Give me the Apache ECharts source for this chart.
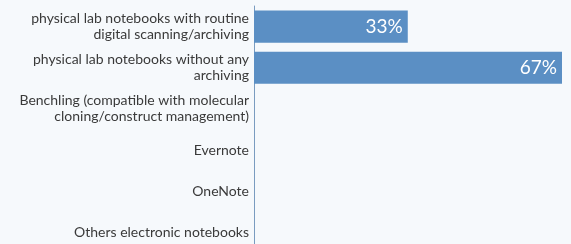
<!DOCTYPE html>
<html>
<head>
<meta charset="utf-8">
<script src="https://cdn.jsdelivr.net/npm/echarts@6/dist/echarts.min.js"></script>
<style>
  html, body { margin: 0; padding: 0; background: #f6f9fc; }
  #chart { width: 571px; height: 244px; }
</style>
</head>
<body>
<div id="chart"></div>
<script>
// answer options, top to bottom
const categories = [
  'physical lab notebooks with routine\ndigital scanning/archiving',
  'physical lab notebooks without any\narchiving',
  'Benchling (compatible with molecular\ncloning/construct management)',
  'Evernote',
  'OneNote',
  'Others electronic notebooks'
];
// share of respondents, percent
const shares = [33.3, 66.7, 0, 0, 0, 0];

const chart = echarts.init(document.getElementById('chart'));

chart.setOption({
  backgroundColor: '#f6f9fc',
  grid: { left: 254, right: 9, top: 6, bottom: -9, outerBoundsMode: 'none' },
  xAxis: {
    type: 'value',
    min: 0,
    max: 66.7,
    show: false
  },
  yAxis: {
    type: 'category',
    inverse: true,
    data: categories,
    axisLine: { lineStyle: { color: '#7a9cc0', width: 1 } },
    axisTick: { show: false },
    axisLabel: {
      color: '#3a3a3a',
      fontFamily: 'Lato',
      fontSize: 14,
      lineHeight: 16,
      margin: 5,
      align: 'right'
    }
  },
  series: [{
    type: 'bar',
    data: shares,
    barCategoryGap: '22%',
    itemStyle: { color: '#5b8fc4' },
    label: {
      show: true,
      position: 'insideRight',
      distance: 5,
      color: '#ffffff',
      fontFamily: 'Lato',
      fontSize: 19,
      formatter: p => p.value > 0 ? Math.round(p.value) + '%' : ''
    }
  }]
});
</script>
</body>
</html>
